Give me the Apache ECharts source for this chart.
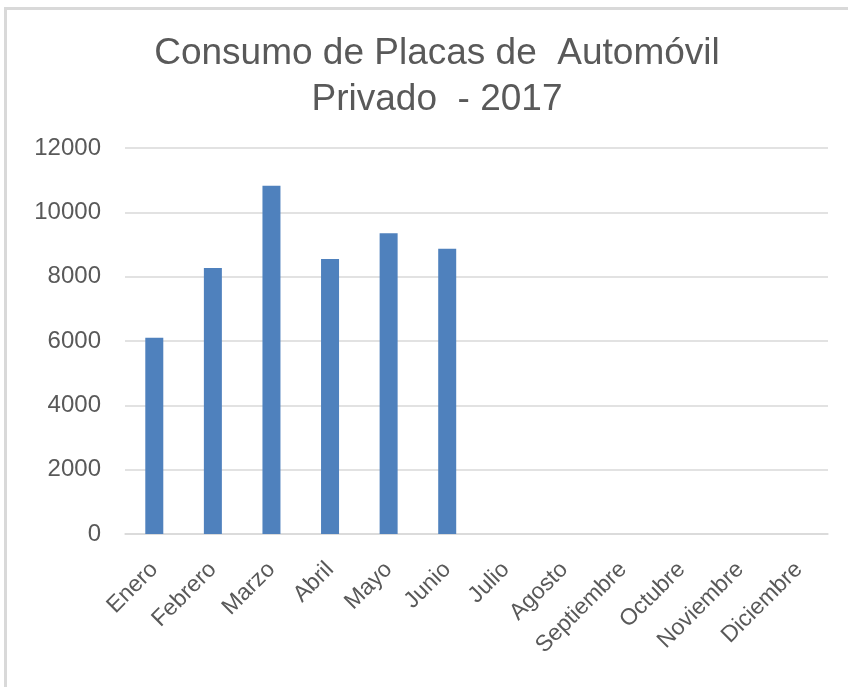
<!DOCTYPE html>
<html>
<head>
<meta charset="utf-8">
<script src="https://cdn.jsdelivr.net/npm/echarts@6/dist/echarts.min.js"></script>
<style>
html,body{margin:0;padding:0;background:#fff;}
#chart{width:848px;height:687px;}
</style>
</head>
<body>
<div id="chart"></div>
<script>
const titleText = 'Consumo de Placas de  Automóvil\nPrivado  - 2017';
const categories = ['Enero','Febrero','Marzo','Abril','Mayo','Junio','Julio','Agosto','Septiembre','Octubre','Noviembre','Diciembre'];
const values = [6100, 8270, 10830, 8550, 9350, 8870, null, null, null, null, null, null];
const yMin = 0, yMax = 12000, yStep = 2000;

const chart = echarts.init(document.getElementById('chart'));
chart.setOption({
  animation: false,
  backgroundColor: '#fff',
  graphic: [{
    type: 'rect',
    shape: {x: 5.5, y: 8.5, width: 900, height: 700},
    style: {fill: 'none', stroke: '#d9d9d9', lineWidth: 3},
    silent: true
  }],
  title: {
    text: titleText,
    left: 432,
    textAlign: 'center',
    top: 26,
    textStyle: {
      fontFamily: 'Liberation Sans, Arial, sans-serif',
      fontSize: 37,
      fontWeight: 'normal',
      color: '#595959',
      lineHeight: 46
    }
  },
  grid: {left: 125, right: 20, top: 148, bottom: 153, containLabel: false},
  xAxis: {
    type: 'category',
    data: categories,
    axisLine: {show: true, lineStyle: {color: '#d9d9d9', width: 1.5}},
    axisTick: {show: false},
    axisLabel: {
      interval: 0,
      rotate: 45,
      margin: 32,
      color: '#595959',
      fontSize: 23,
      fontFamily: 'Liberation Sans, Arial, sans-serif'
    }
  },
  yAxis: {
    type: 'value',
    min: yMin,
    max: yMax,
    interval: yStep,
    axisLine: {show: false},
    axisTick: {show: false},
    splitLine: {lineStyle: {color: '#d9d9d9', width: 1.5}},
    axisLabel: {
      margin: 24,
      color: '#595959',
      fontSize: 24,
      fontFamily: 'Liberation Sans, Arial, sans-serif',
      formatter: function (v) { return String(v); }
    }
  },
  series: [{
    type: 'bar',
    data: values,
    barWidth: 18,
    itemStyle: {color: '#4f81bd'}
  }]
});
</script>
</body>
</html>
